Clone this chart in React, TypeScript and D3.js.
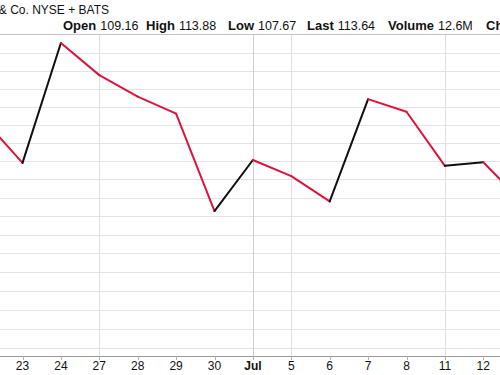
import React, { useEffect, useRef } from "react";
import * as d3 from "d3";

// trading days shown (Jun 22 .. Jul 13), first and last sit off the visible area
const dayLabels = ["22", "23", "24", "27", "28", "29", "30", "Jul", "5", "6", "7", "8", "11", "12", "13"];
const closes = [115.63, 114.45, 117.78, 116.88, 116.28, 115.81, 113.14, 114.53, 114.09, 113.4, 116.21, 115.86, 114.37, 114.47, 113.4];
// week starts / month start get a vertical grid line
const gridDays = ["27", "Jul", "5", "11"];
const priceTicks = d3.range(109.5, 117.51, 0.5);

const headerLabels = ["Open", "High", "Low", "Last", "Volume", "Ch"];
const headerValues = ["109.16", "113.88", "107.67", "113.64", "12.6M", ""];

const W = 500;
const H = 375;

export default function App() {
  const ref = useRef<SVGSVGElement>(null);

  useEffect(() => {
    const svg = d3.select(ref.current);
    svg.selectAll("*").remove();

    const top = 34;
    const bottom = 356;
    const font = "'Liberation Sans', Arial, sans-serif";

    const x = d3.scaleLinear().domain([-1, 13]).range([22.5 - 38.4, 22.5 + 38.4 * 13]);
    const y = d3.scaleLog().domain([109.5, 117.5]).range([347.7, 53]);
    const xi = (i: number) => x(i - 1);

    svg.append("rect").attr("width", W).attr("height", H).attr("fill", "#fff");

    // horizontal grid
    svg.append("g")
      .selectAll("line")
      .data(priceTicks)
      .join("line")
      .attr("x1", 0)
      .attr("x2", W)
      .attr("y1", (d) => Math.round(y(d)) + 0.5)
      .attr("y2", (d) => Math.round(y(d)) + 0.5)
      .attr("stroke", "#e3e3e3");

    // vertical grid
    svg.append("g")
      .selectAll("line")
      .data(gridDays)
      .join("line")
      .attr("x1", (d) => Math.round(xi(dayLabels.indexOf(d))) + 0.5)
      .attr("x2", (d) => Math.round(xi(dayLabels.indexOf(d))) + 0.5)
      .attr("y1", top)
      .attr("y2", bottom + 4)
      .attr("stroke", (d) => (d === "Jul" ? "#cfcfcf" : "#dedede"));

    // frame top + x axis
    svg.append("line").attr("x1", 0).attr("x2", W).attr("y1", top + 0.5).attr("y2", top + 0.5).attr("stroke", "#c4c4c4");
    svg.append("line").attr("x1", 0).attr("x2", W).attr("y1", bottom + 0.5).attr("y2", bottom + 0.5).attr("stroke", "#9a9a9a");

    // tick marks
    svg.append("g")
      .selectAll("line")
      .data(dayLabels)
      .join("line")
      .attr("x1", (d, i) => Math.round(xi(i)) + 0.5)
      .attr("x2", (d, i) => Math.round(xi(i)) + 0.5)
      .attr("y1", bottom)
      .attr("y2", bottom + 4)
      .attr("stroke", "#b0b0b0");

    // tick labels (only the ones inside the window)
    const visible = dayLabels.map((d, i) => ({ d, i })).filter((o) => xi(o.i) > 0 && xi(o.i) < W);
    svg.append("g")
      .selectAll("text")
      .data(visible)
      .join("text")
      .attr("x", (o) => xi(o.i))
      .attr("y", 370)
      .attr("text-anchor", "middle")
      .style("font-family", font)
      .style("font-size", "12px")
      .style("font-weight", (o) => (o.d === "Jul" ? "bold" : "normal"))
      .attr("fill", "#111")
      .text((o) => o.d);

    // price line, black when up, red when down
    const segs = d3.pairs(closes.map((c, i) => ({ i, c })));
    svg.append("g")
      .selectAll("line")
      .data(segs)
      .join("line")
      .attr("x1", (d) => xi(d[0].i))
      .attr("y1", (d) => y(d[0].c))
      .attr("x2", (d) => xi(d[1].i))
      .attr("y2", (d) => y(d[1].c))
      .attr("stroke", (d) => (d[1].c >= d[0].c ? "#111" : "#dc143c"))
      .attr("stroke-width", 2)
      .attr("stroke-linecap", "round");

    // header
    svg.append("text")
      .attr("x", 109)
      .attr("y", 14)
      .attr("text-anchor", "end")
      .style("font-family", font)
      .style("font-size", "12px")
      .attr("fill", "#111")
      .text("& Co. NYSE + BATS");

    const labelX = [63, 146, 228, 307, 388, 486];
    headerLabels.forEach((lab, k) => {
      const t = svg.append("text")
        .attr("x", labelX[k])
        .attr("y", 30)
        .style("font-family", font)
        .style("font-weight", "bold")
        .style("font-size", "13px")
        .attr("fill", "#111")
        .text(lab);
      if (headerValues[k]) {
        const w = (t.node() as SVGTextElement).getComputedTextLength();
        svg.append("text")
          .attr("x", labelX[k] + w + 4)
          .attr("y", 30)
          .style("font-family", font)
          .style("font-size", "12.5px")
          .attr("fill", "#111")
          .text(headerValues[k]);
      }
    });
  }, []);

  return <svg ref={ref} width={W} height={H} style={{ position: "absolute", left: 0, top: 0 }} />;
}
